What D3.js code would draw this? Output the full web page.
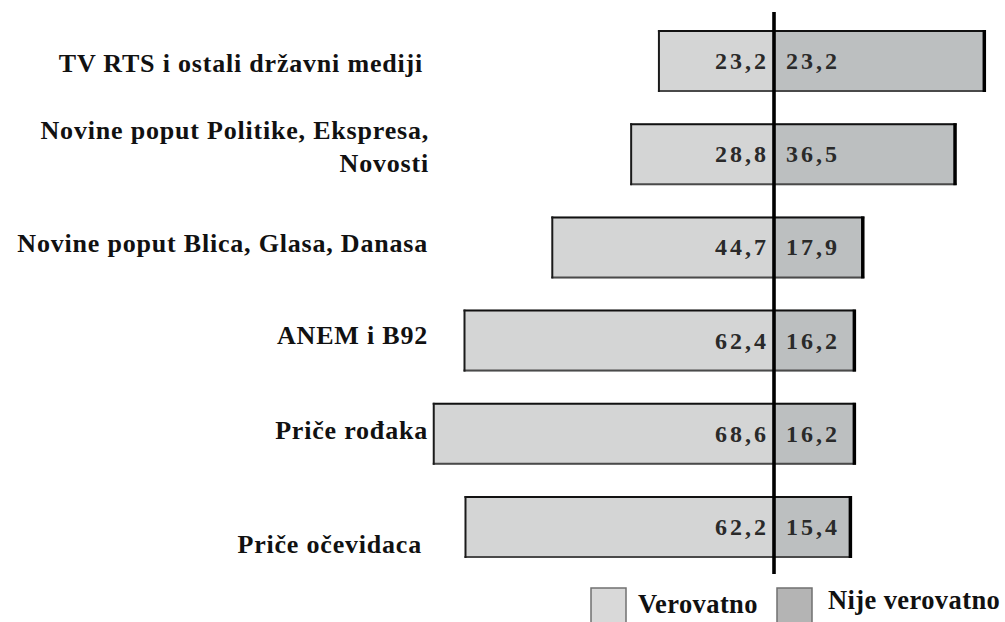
<!DOCTYPE html>
<html>
<head>
<meta charset="utf-8">
<script src="https://cdn.jsdelivr.net/npm/d3@7"></script>
<style>html,body{margin:0;background:#fff}</style>
</head>
<body>
<svg id="chart" width="1005" height="622"></svg>
<script>
// ---- data ----
const categories = [
  "TV RTS i ostali državni mediji",
  "Novine poput Politike, Ekspresa,\nNovosti",
  "Novine poput Blica, Glasa, Danasa",
  "ANEM i B92",
  "Priče rođaka",
  "Priče očevidaca"
];
// "Verovatno" (likely) – bar lengths
const verovatno = [23.2, 28.8, 44.7, 62.4, 68.6, 62.2];
// "Nije verovatno" (not likely) – bar lengths as drawn in the reference
// (the first bar is drawn much longer than its printed label 23,2)
const nijeVerovatno = [42.4, 36.5, 17.9, 16.2, 16.2, 15.4];
// printed value labels
const verovatnoLabels = ["23,2", "28,8", "44,7", "62,4", "68,6", "62,2"];
const nijeLabels = ["23,2", "36,5", "17,9", "16,2", "16,2", "15,4"];
const legendLabels = ["Verovatno", "Nije verovatno"];

// ---- layout / style ----
const colors = { left: "#d4d5d5", right: "#bcbfc0", legLeft: "#d9d9d9", legRight: "#b4b4b4" };
// small hand-placement nudges of category labels (as in the reference)
const labelNudge = [
  { dx: -5, dy: [11] },
  { dx: 1, dy: [-15, 18] },
  { dx: 0, dy: [5] },
  { dx: 0, dy: [3] },
  { dx: 0, dy: [5.5] },
  { dx: -6, dy: [25.5] }
];
const FONT = '"Liberation Serif"';

const svg = d3.select("#chart");
const centerX = 774;
const pxPerUnit = 4.96;

const x = d3.scaleLinear()
  .domain([-70, 0, 45])
  .range([centerX - 70 * pxPerUnit, centerX, centerX + 45 * pxPerUnit]);

const y = d3.scaleBand()
  .domain(categories)
  .range([14.4, 573.6])
  .paddingInner(0.335)
  .paddingOuter(0.1675);

const rows = categories.map((c, i) => ({
  cat: c, l: verovatno[i], r: nijeVerovatno[i],
  ll: verovatnoLabels[i], rl: nijeLabels[i], nudge: labelNudge[i]
}));

const g = svg.append("g");

// left bars
g.selectAll("rect.left").data(rows).join("rect")
  .attr("class", "left")
  .attr("x", d => x(-d.l))
  .attr("y", d => y(d.cat))
  .attr("width", d => x(0) - x(-d.l))
  .attr("height", y.bandwidth())
  .attr("fill", colors.left);

// right bars
g.selectAll("rect.right").data(rows).join("rect")
  .attr("class", "right")
  .attr("x", x(0))
  .attr("y", d => y(d.cat))
  .attr("width", d => x(d.r) - x(0))
  .attr("height", y.bandwidth())
  .attr("fill", colors.right);

// borders: top (black), bottom (dark grey), left, right (thick black)
rows.forEach(d => {
  const x0 = x(-d.l), x1 = x(d.r), y0 = y(d.cat), y1 = y(d.cat) + y.bandwidth();
  g.append("line").attr("x1", x0 - 1).attr("x2", x1 + 1.5).attr("y1", y0 + 1).attr("y2", y0 + 1)
    .attr("stroke", "#111").attr("stroke-width", 2);
  g.append("line").attr("x1", x0 - 1).attr("x2", x1 + 1.5).attr("y1", y1 - 1).attr("y2", y1 - 1)
    .attr("stroke", "#4a4a4a").attr("stroke-width", 2);
  g.append("line").attr("x1", x0).attr("x2", x0).attr("y1", y0).attr("y2", y1)
    .attr("stroke", "#1a1a1a").attr("stroke-width", 2);
  g.append("line").attr("x1", x1).attr("x2", x1).attr("y1", y0).attr("y2", y1)
    .attr("stroke", "#000").attr("stroke-width", 3.5);
});

// center line
svg.append("line")
  .attr("x1", x(0)).attr("x2", x(0))
  .attr("y1", 12).attr("y2", 574)
  .attr("stroke", "#000").attr("stroke-width", 3.6);

// value labels
g.selectAll("text.vl").data(rows).join("text")
  .attr("class", "vl")
  .attr("x", x(0) - 5)
  .attr("y", d => y(d.cat) + y.bandwidth() / 2 + 8)
  .attr("text-anchor", "end")
  .attr("font-weight", "bold")
  .attr("font-size", 24)
  .attr("letter-spacing", 3)
  .attr("fill", "#2a2a2a")
  .style("font-family", FONT)
  .text(d => d.ll);

g.selectAll("text.vr").data(rows).join("text")
  .attr("class", "vr")
  .attr("x", x(0) + 12)
  .attr("y", d => y(d.cat) + y.bandwidth() / 2 + 8)
  .attr("text-anchor", "start")
  .attr("font-weight", "bold")
  .attr("font-size", 24)
  .attr("letter-spacing", 3)
  .attr("fill", "#2a2a2a")
  .style("font-family", FONT)
  .text(d => d.rl);

// category labels
const catG = svg.append("g");
rows.forEach(d => {
  const lines = d.cat.split("\n");
  const t = catG.append("text")
    .attr("text-anchor", "end")
    .attr("font-weight", "bold")
    .attr("font-size", 26)
    .attr("letter-spacing", 0.8)
    .attr("fill", "#111")
    .style("font-family", FONT);
  lines.forEach((line, j) => {
    t.append("tspan")
      .attr("x", 428 + d.nudge.dx)
      .attr("y", y(d.cat) + y.bandwidth() / 2 + d.nudge.dy[j])
      .text(line);
  });
});

// legend
const leg = svg.append("g");
const legendItems = [
  { label: legendLabels[0], fill: colors.legLeft, bx: 591, tx: 638, ty: 613 },
  { label: legendLabels[1], fill: colors.legRight, bx: 777, tx: 828, ty: 609 }
];
legendItems.forEach(it => {
  leg.append("rect")
    .attr("x", it.bx).attr("y", 588).attr("width", 35).attr("height", 40)
    .attr("fill", it.fill).attr("stroke", "#707070").attr("stroke-width", 1.5);
  leg.append("text")
    .attr("x", it.tx).attr("y", it.ty)
    .attr("font-weight", "bold")
    .attr("font-size", 26.5)
    .attr("letter-spacing", 0.4)
    .attr("fill", "#111")
    .style("font-family", FONT)
    .text(it.label);
});
</script>
</body>
</html>
